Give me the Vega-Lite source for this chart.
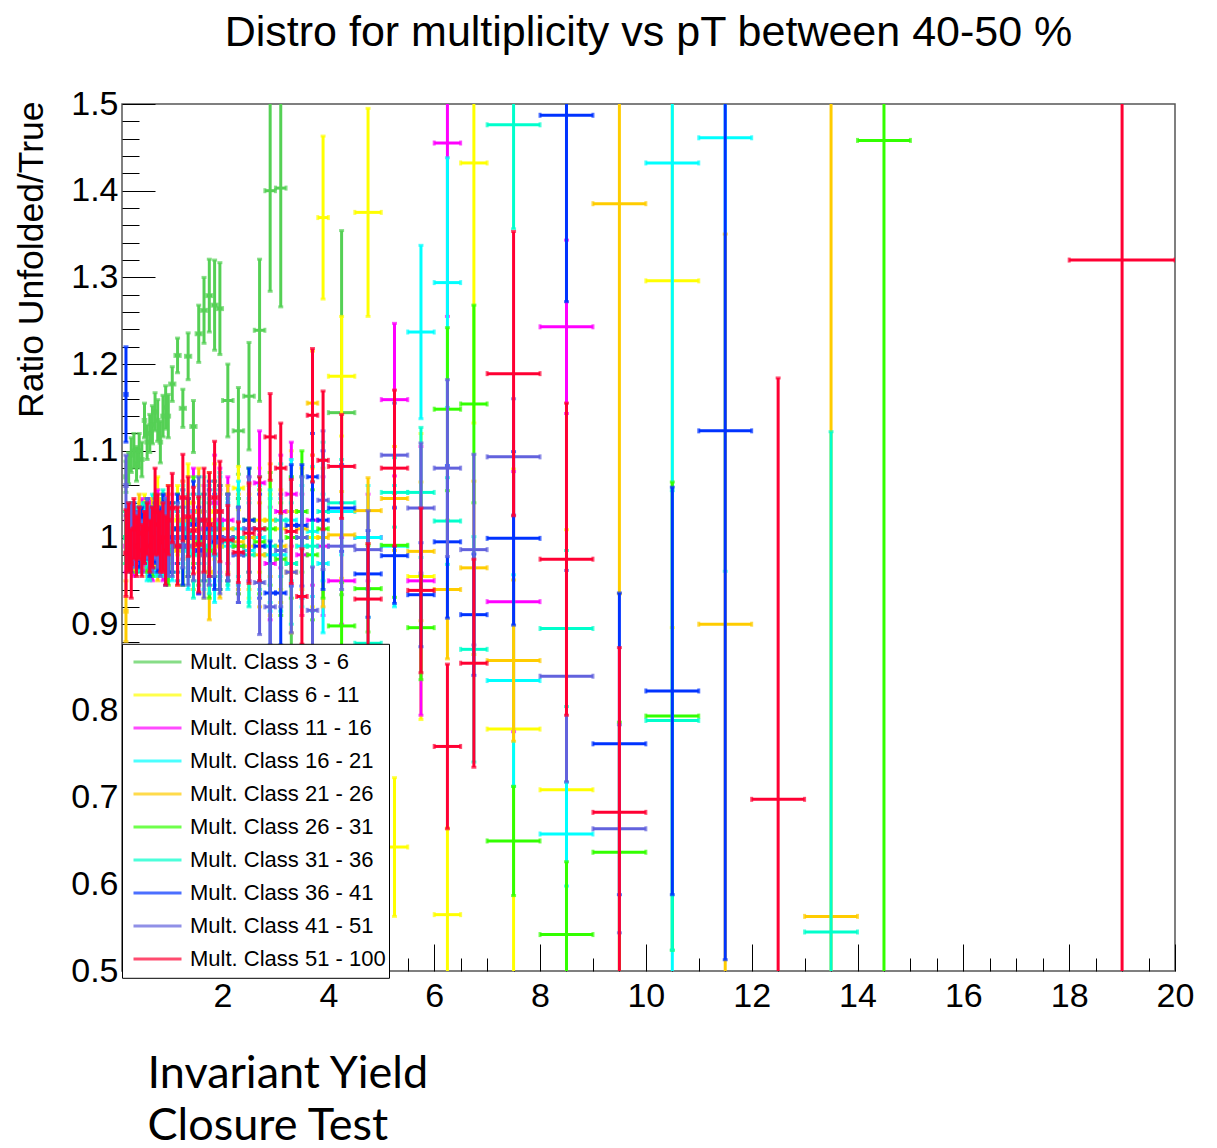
{
"$schema": "https://vega.github.io/schema/vega-lite/v6.json",
"width": 1053, "height": 867,
"autosize": {"type": "none"},
"padding": {"left": 122, "top": 104, "right": 42, "bottom": 177},
"background": "white",
"title": {"text": "Distro for multiplicity vs pT between 40-50 %", "font": "Liberation Sans", "fontSize": 43, "fontWeight": "normal", "color": "black", "anchor": "middle", "offset": 32},
"datasets": {"d": [
{"c":"3 - 6","x":0.175,"w":0.025,"y":1.07,"e":0.018},
{"c":"3 - 6","x":0.225,"w":0.025,"y":1.08,"e":0.018},
{"c":"3 - 6","x":0.275,"w":0.025,"y":1.095,"e":0.02},
{"c":"3 - 6","x":0.325,"w":0.025,"y":1.1,"e":0.02},
{"c":"3 - 6","x":0.375,"w":0.025,"y":1.085,"e":0.02},
{"c":"3 - 6","x":0.425,"w":0.025,"y":1.1,"e":0.02},
{"c":"3 - 6","x":0.475,"w":0.025,"y":1.09,"e":0.02},
{"c":"3 - 6","x":0.525,"w":0.025,"y":1.135,"e":0.02},
{"c":"3 - 6","x":0.575,"w":0.025,"y":1.11,"e":0.02},
{"c":"3 - 6","x":0.625,"w":0.025,"y":1.12,"e":0.022},
{"c":"3 - 6","x":0.675,"w":0.025,"y":1.13,"e":0.022},
{"c":"3 - 6","x":0.725,"w":0.025,"y":1.145,"e":0.022},
{"c":"3 - 6","x":0.775,"w":0.025,"y":1.135,"e":0.024},
{"c":"3 - 6","x":0.825,"w":0.025,"y":1.11,"e":0.024},
{"c":"3 - 6","x":0.875,"w":0.025,"y":1.14,"e":0.024},
{"c":"3 - 6","x":0.925,"w":0.025,"y":1.15,"e":0.025},
{"c":"3 - 6","x":0.975,"w":0.025,"y":1.14,"e":0.025},
{"c":"3 - 6","x":1.05,"w":0.05,"y":1.177,"e":0.02},
{"c":"3 - 6","x":1.15,"w":0.05,"y":1.21,"e":0.02},
{"c":"3 - 6","x":1.25,"w":0.05,"y":1.149,"e":0.022},
{"c":"3 - 6","x":1.35,"w":0.05,"y":1.209,"e":0.027},
{"c":"3 - 6","x":1.45,"w":0.05,"y":1.128,"e":0.03},
{"c":"3 - 6","x":1.55,"w":0.05,"y":1.235,"e":0.033},
{"c":"3 - 6","x":1.65,"w":0.05,"y":1.262,"e":0.038},
{"c":"3 - 6","x":1.75,"w":0.05,"y":1.279,"e":0.042},
{"c":"3 - 6","x":1.85,"w":0.05,"y":1.268,"e":0.052},
{"c":"3 - 6","x":1.95,"w":0.05,"y":1.264,"e":0.053},
{"c":"3 - 6","x":2.1,"w":0.1,"y":1.158,"e":0.042},
{"c":"3 - 6","x":2.3,"w":0.1,"y":1.123,"e":0.05},
{"c":"3 - 6","x":2.5,"w":0.1,"y":1.163,"e":0.062},
{"c":"3 - 6","x":2.7,"w":0.1,"y":1.239,"e":0.082},
{"c":"3 - 6","x":2.9,"w":0.1,"y":1.4,"e":0.116},
{"c":"3 - 6","x":3.1,"w":0.1,"y":1.403,"e":0.137},
{"c":"3 - 6","x":3.3,"w":0.1,"y":0.97,"e":0.1},
{"c":"3 - 6","x":4.25,"w":0.25,"y":1.144,"e":0.21},

{"c":"6 - 11","x":0.175,"w":0.025,"y":1.0,"e":0.03},
{"c":"6 - 11","x":0.225,"w":0.025,"y":0.99,"e":0.03},
{"c":"6 - 11","x":0.275,"w":0.025,"y":1.01,"e":0.03},
{"c":"6 - 11","x":0.325,"w":0.025,"y":1.0,"e":0.03},
{"c":"6 - 11","x":0.375,"w":0.025,"y":0.995,"e":0.03},
{"c":"6 - 11","x":0.425,"w":0.025,"y":1.01,"e":0.03},
{"c":"6 - 11","x":0.475,"w":0.025,"y":1.0,"e":0.03},
{"c":"6 - 11","x":0.525,"w":0.025,"y":1.02,"e":0.03},
{"c":"6 - 11","x":0.575,"w":0.025,"y":0.99,"e":0.035},
{"c":"6 - 11","x":0.625,"w":0.025,"y":1.005,"e":0.035},
{"c":"6 - 11","x":0.675,"w":0.025,"y":1.01,"e":0.035},
{"c":"6 - 11","x":0.725,"w":0.025,"y":1.0,"e":0.035},
{"c":"6 - 11","x":0.775,"w":0.025,"y":1.035,"e":0.035},
{"c":"6 - 11","x":0.825,"w":0.025,"y":0.995,"e":0.035},
{"c":"6 - 11","x":0.875,"w":0.025,"y":1.01,"e":0.04},
{"c":"6 - 11","x":0.925,"w":0.025,"y":1.0,"e":0.04},
{"c":"6 - 11","x":0.975,"w":0.025,"y":1.02,"e":0.04},
{"c":"6 - 11","x":1.05,"w":0.05,"y":1.0,"e":0.04},
{"c":"6 - 11","x":1.15,"w":0.05,"y":1.02,"e":0.04},
{"c":"6 - 11","x":1.25,"w":0.05,"y":0.99,"e":0.045},
{"c":"6 - 11","x":1.35,"w":0.05,"y":1.04,"e":0.045},
{"c":"6 - 11","x":1.45,"w":0.05,"y":1.0,"e":0.05},
{"c":"6 - 11","x":1.55,"w":0.05,"y":1.01,"e":0.05},
{"c":"6 - 11","x":1.65,"w":0.05,"y":0.98,"e":0.05},
{"c":"6 - 11","x":1.75,"w":0.05,"y":1.02,"e":0.055},
{"c":"6 - 11","x":1.85,"w":0.05,"y":1.03,"e":0.055},
{"c":"6 - 11","x":1.95,"w":0.05,"y":1.0,"e":0.06},
{"c":"6 - 11","x":2.1,"w":0.1,"y":1.0,"e":0.05},
{"c":"6 - 11","x":2.3,"w":0.1,"y":1.057,"e":0.025},
{"c":"6 - 11","x":2.5,"w":0.1,"y":0.99,"e":0.06},
{"c":"6 - 11","x":2.7,"w":0.1,"y":1.02,"e":0.06},
{"c":"6 - 11","x":2.9,"w":0.1,"y":0.98,"e":0.07},
{"c":"6 - 11","x":3.1,"w":0.1,"y":1.01,"e":0.07},
{"c":"6 - 11","x":3.3,"w":0.1,"y":1.03,"e":0.07},
{"c":"6 - 11","x":3.5,"w":0.1,"y":0.99,"e":0.08},
{"c":"6 - 11","x":3.7,"w":0.1,"y":1.0,"e":0.08},
{"c":"6 - 11","x":3.9,"w":0.1,"y":1.369,"e":0.094},
{"c":"6 - 11","x":4.25,"w":0.25,"y":1.186,"e":0.069},
{"c":"6 - 11","x":4.75,"w":0.25,"y":1.375,"e":0.12},
{"c":"6 - 11","x":5.25,"w":0.25,"y":0.643,"e":0.08},
{"c":"6 - 11","x":5.75,"w":0.25,"y":0.955,"e":0.165},
{"c":"6 - 11","x":6.25,"w":0.25,"y":0.565,"e":0.1},
{"c":"6 - 11","x":6.75,"w":0.25,"y":1.432,"e":0.3},
{"c":"6 - 11","x":7.5,"w":0.5,"y":0.779,"e":0.3},
{"c":"6 - 11","x":8.5,"w":0.5,"y":0.709,"e":0.3},
{"c":"6 - 11","x":10.5,"w":0.5,"y":1.296,"e":0.4},

{"c":"11 - 16","x":0.175,"w":0.025,"y":0.99,"e":0.03},
{"c":"11 - 16","x":0.225,"w":0.025,"y":1.01,"e":0.03},
{"c":"11 - 16","x":0.275,"w":0.025,"y":1.0,"e":0.03},
{"c":"11 - 16","x":0.325,"w":0.025,"y":0.985,"e":0.03},
{"c":"11 - 16","x":0.375,"w":0.025,"y":1.005,"e":0.03},
{"c":"11 - 16","x":0.425,"w":0.025,"y":1.0,"e":0.03},
{"c":"11 - 16","x":0.475,"w":0.025,"y":1.015,"e":0.03},
{"c":"11 - 16","x":0.525,"w":0.025,"y":0.99,"e":0.03},
{"c":"11 - 16","x":0.575,"w":0.025,"y":1.0,"e":0.035},
{"c":"11 - 16","x":0.625,"w":0.025,"y":1.01,"e":0.035},
{"c":"11 - 16","x":0.675,"w":0.025,"y":0.985,"e":0.035},
{"c":"11 - 16","x":0.725,"w":0.025,"y":1.0,"e":0.035},
{"c":"11 - 16","x":0.775,"w":0.025,"y":1.02,"e":0.035},
{"c":"11 - 16","x":0.825,"w":0.025,"y":1.005,"e":0.035},
{"c":"11 - 16","x":0.875,"w":0.025,"y":0.99,"e":0.04},
{"c":"11 - 16","x":0.925,"w":0.025,"y":1.01,"e":0.04},
{"c":"11 - 16","x":0.975,"w":0.025,"y":1.0,"e":0.04},
{"c":"11 - 16","x":1.05,"w":0.05,"y":1.01,"e":0.04},
{"c":"11 - 16","x":1.15,"w":0.05,"y":0.99,"e":0.04},
{"c":"11 - 16","x":1.25,"w":0.05,"y":1.02,"e":0.045},
{"c":"11 - 16","x":1.35,"w":0.05,"y":1.0,"e":0.045},
{"c":"11 - 16","x":1.45,"w":0.05,"y":1.03,"e":0.05},
{"c":"11 - 16","x":1.55,"w":0.05,"y":0.985,"e":0.05},
{"c":"11 - 16","x":1.65,"w":0.05,"y":1.01,"e":0.05},
{"c":"11 - 16","x":1.75,"w":0.05,"y":1.0,"e":0.055},
{"c":"11 - 16","x":1.85,"w":0.05,"y":1.04,"e":0.055},
{"c":"11 - 16","x":1.95,"w":0.05,"y":1.02,"e":0.06},
{"c":"11 - 16","x":2.1,"w":0.1,"y":1.02,"e":0.05},
{"c":"11 - 16","x":2.3,"w":0.1,"y":0.99,"e":0.055},
{"c":"11 - 16","x":2.5,"w":0.1,"y":1.01,"e":0.06},
{"c":"11 - 16","x":2.7,"w":0.1,"y":1.063,"e":0.06},
{"c":"11 - 16","x":2.9,"w":0.1,"y":0.97,"e":0.065},
{"c":"11 - 16","x":3.1,"w":0.1,"y":1.03,"e":0.065},
{"c":"11 - 16","x":3.3,"w":0.1,"y":1.05,"e":0.06},
{"c":"11 - 16","x":3.5,"w":0.1,"y":0.98,"e":0.07},
{"c":"11 - 16","x":3.7,"w":0.1,"y":1.02,"e":0.075},
{"c":"11 - 16","x":3.9,"w":0.1,"y":0.99,"e":0.08},
{"c":"11 - 16","x":4.25,"w":0.25,"y":0.95,"e":0.05},
{"c":"11 - 16","x":4.75,"w":0.25,"y":1.0,"e":0.05},
{"c":"11 - 16","x":5.25,"w":0.25,"y":1.159,"e":0.088},
{"c":"11 - 16","x":5.75,"w":0.25,"y":0.95,"e":0.155},
{"c":"11 - 16","x":6.25,"w":0.25,"y":1.455,"e":0.2},
{"c":"11 - 16","x":7.5,"w":0.5,"y":0.926,"e":0.15},
{"c":"11 - 16","x":8.5,"w":0.5,"y":1.243,"e":0.1},

{"c":"16 - 21","x":0.175,"w":0.025,"y":1.0,"e":0.03},
{"c":"16 - 21","x":0.225,"w":0.025,"y":1.005,"e":0.03},
{"c":"16 - 21","x":0.275,"w":0.025,"y":0.99,"e":0.03},
{"c":"16 - 21","x":0.325,"w":0.025,"y":1.01,"e":0.03},
{"c":"16 - 21","x":0.375,"w":0.025,"y":1.0,"e":0.03},
{"c":"16 - 21","x":0.425,"w":0.025,"y":0.995,"e":0.03},
{"c":"16 - 21","x":0.475,"w":0.025,"y":1.01,"e":0.03},
{"c":"16 - 21","x":0.525,"w":0.025,"y":1.0,"e":0.03},
{"c":"16 - 21","x":0.575,"w":0.025,"y":0.985,"e":0.035},
{"c":"16 - 21","x":0.625,"w":0.025,"y":1.0,"e":0.035},
{"c":"16 - 21","x":0.675,"w":0.025,"y":1.015,"e":0.035},
{"c":"16 - 21","x":0.725,"w":0.025,"y":0.99,"e":0.035},
{"c":"16 - 21","x":0.775,"w":0.025,"y":1.0,"e":0.035},
{"c":"16 - 21","x":0.825,"w":0.025,"y":1.01,"e":0.035},
{"c":"16 - 21","x":0.875,"w":0.025,"y":0.995,"e":0.04},
{"c":"16 - 21","x":0.925,"w":0.025,"y":1.005,"e":0.04},
{"c":"16 - 21","x":0.975,"w":0.025,"y":0.99,"e":0.04},
{"c":"16 - 21","x":1.05,"w":0.05,"y":0.99,"e":0.04},
{"c":"16 - 21","x":1.15,"w":0.05,"y":1.0,"e":0.04},
{"c":"16 - 21","x":1.25,"w":0.05,"y":1.015,"e":0.045},
{"c":"16 - 21","x":1.35,"w":0.05,"y":0.985,"e":0.045},
{"c":"16 - 21","x":1.45,"w":0.05,"y":1.0,"e":0.05},
{"c":"16 - 21","x":1.55,"w":0.05,"y":1.02,"e":0.05},
{"c":"16 - 21","x":1.65,"w":0.05,"y":0.99,"e":0.05},
{"c":"16 - 21","x":1.75,"w":0.05,"y":1.005,"e":0.055},
{"c":"16 - 21","x":1.85,"w":0.05,"y":0.98,"e":0.055},
{"c":"16 - 21","x":1.95,"w":0.05,"y":1.01,"e":0.06},
{"c":"16 - 21","x":2.1,"w":0.1,"y":0.99,"e":0.05},
{"c":"16 - 21","x":2.3,"w":0.1,"y":1.01,"e":0.055},
{"c":"16 - 21","x":2.5,"w":0.1,"y":0.985,"e":0.06},
{"c":"16 - 21","x":2.7,"w":0.1,"y":1.0,"e":0.06},
{"c":"16 - 21","x":2.9,"w":0.1,"y":0.98,"e":0.065},
{"c":"16 - 21","x":3.1,"w":0.1,"y":0.98,"e":0.065},
{"c":"16 - 21","x":3.3,"w":0.1,"y":1.02,"e":0.07},
{"c":"16 - 21","x":3.5,"w":0.1,"y":0.99,"e":0.07},
{"c":"16 - 21","x":3.7,"w":0.1,"y":1.007,"e":0.075},
{"c":"16 - 21","x":3.9,"w":0.1,"y":0.97,"e":0.08},
{"c":"16 - 21","x":4.25,"w":0.25,"y":1.03,"e":0.05},
{"c":"16 - 21","x":4.75,"w":0.25,"y":1.0,"e":0.06},
{"c":"16 - 21","x":5.25,"w":0.25,"y":0.99,"e":0.07},
{"c":"16 - 21","x":5.75,"w":0.25,"y":1.237,"e":0.1},
{"c":"16 - 21","x":6.25,"w":0.25,"y":1.294,"e":0.144},
{"c":"16 - 21","x":7.5,"w":0.5,"y":0.835,"e":0.122},
{"c":"16 - 21","x":8.5,"w":0.5,"y":0.658,"e":0.06},
{"c":"16 - 21","x":10.5,"w":0.5,"y":1.432,"e":0.95},
{"c":"16 - 21","x":11.5,"w":0.5,"y":1.461,"e":0.5},

{"c":"21 - 26","x":0.175,"w":0.025,"y":0.915,"e":0.035},
{"c":"21 - 26","x":0.225,"w":0.025,"y":1.0,"e":0.03},
{"c":"21 - 26","x":0.275,"w":0.025,"y":1.01,"e":0.03},
{"c":"21 - 26","x":0.325,"w":0.025,"y":0.99,"e":0.03},
{"c":"21 - 26","x":0.375,"w":0.025,"y":1.0,"e":0.03},
{"c":"21 - 26","x":0.425,"w":0.025,"y":1.02,"e":0.03},
{"c":"21 - 26","x":0.475,"w":0.025,"y":0.995,"e":0.03},
{"c":"21 - 26","x":0.525,"w":0.025,"y":1.005,"e":0.03},
{"c":"21 - 26","x":0.575,"w":0.025,"y":1.0,"e":0.035},
{"c":"21 - 26","x":0.625,"w":0.025,"y":0.99,"e":0.035},
{"c":"21 - 26","x":0.675,"w":0.025,"y":1.01,"e":0.035},
{"c":"21 - 26","x":0.725,"w":0.025,"y":1.0,"e":0.035},
{"c":"21 - 26","x":0.775,"w":0.025,"y":0.985,"e":0.035},
{"c":"21 - 26","x":0.825,"w":0.025,"y":1.01,"e":0.035},
{"c":"21 - 26","x":0.875,"w":0.025,"y":1.0,"e":0.04},
{"c":"21 - 26","x":0.925,"w":0.025,"y":0.995,"e":0.04},
{"c":"21 - 26","x":0.975,"w":0.025,"y":1.01,"e":0.04},
{"c":"21 - 26","x":1.05,"w":0.05,"y":1.0,"e":0.04},
{"c":"21 - 26","x":1.15,"w":0.05,"y":0.985,"e":0.04},
{"c":"21 - 26","x":1.25,"w":0.05,"y":1.02,"e":0.045},
{"c":"21 - 26","x":1.35,"w":0.05,"y":1.0,"e":0.045},
{"c":"21 - 26","x":1.45,"w":0.05,"y":0.99,"e":0.05},
{"c":"21 - 26","x":1.55,"w":0.05,"y":1.03,"e":0.05},
{"c":"21 - 26","x":1.65,"w":0.05,"y":1.0,"e":0.05},
{"c":"21 - 26","x":1.75,"w":0.05,"y":0.96,"e":0.055},
{"c":"21 - 26","x":1.85,"w":0.05,"y":1.01,"e":0.055},
{"c":"21 - 26","x":1.95,"w":0.05,"y":0.99,"e":0.06},
{"c":"21 - 26","x":2.1,"w":0.1,"y":1.01,"e":0.05},
{"c":"21 - 26","x":2.3,"w":0.1,"y":0.995,"e":0.055},
{"c":"21 - 26","x":2.5,"w":0.1,"y":1.0,"e":0.06},
{"c":"21 - 26","x":2.7,"w":0.1,"y":0.98,"e":0.06},
{"c":"21 - 26","x":2.9,"w":0.1,"y":1.02,"e":0.065},
{"c":"21 - 26","x":3.1,"w":0.1,"y":0.99,"e":0.065},
{"c":"21 - 26","x":3.3,"w":0.1,"y":0.96,"e":0.07},
{"c":"21 - 26","x":3.5,"w":0.1,"y":1.01,"e":0.07},
{"c":"21 - 26","x":3.7,"w":0.1,"y":1.155,"e":0.06},
{"c":"21 - 26","x":3.9,"w":0.1,"y":1.0,"e":0.08},
{"c":"21 - 26","x":4.25,"w":0.25,"y":1.003,"e":0.05},
{"c":"21 - 26","x":4.75,"w":0.25,"y":1.031,"e":0.038},
{"c":"21 - 26","x":5.25,"w":0.25,"y":1.045,"e":0.06},
{"c":"21 - 26","x":5.75,"w":0.25,"y":0.984,"e":0.08},
{"c":"21 - 26","x":6.25,"w":0.25,"y":0.94,"e":0.08},
{"c":"21 - 26","x":6.75,"w":0.25,"y":0.965,"e":0.1},
{"c":"21 - 26","x":7.5,"w":0.5,"y":0.858,"e":0.093},
{"c":"21 - 26","x":9.5,"w":0.5,"y":1.385,"e":0.45},
{"c":"21 - 26","x":11.5,"w":0.5,"y":0.9,"e":0.45},
{"c":"21 - 26","x":13.5,"w":0.5,"y":0.563,"e":0.96},

{"c":"26 - 31","x":0.175,"w":0.025,"y":1.0,"e":0.03},
{"c":"26 - 31","x":0.225,"w":0.025,"y":0.995,"e":0.03},
{"c":"26 - 31","x":0.275,"w":0.025,"y":1.01,"e":0.03},
{"c":"26 - 31","x":0.325,"w":0.025,"y":1.0,"e":0.03},
{"c":"26 - 31","x":0.375,"w":0.025,"y":0.99,"e":0.03},
{"c":"26 - 31","x":0.425,"w":0.025,"y":1.005,"e":0.03},
{"c":"26 - 31","x":0.475,"w":0.025,"y":1.0,"e":0.03},
{"c":"26 - 31","x":0.525,"w":0.025,"y":1.01,"e":0.03},
{"c":"26 - 31","x":0.575,"w":0.025,"y":0.995,"e":0.035},
{"c":"26 - 31","x":0.625,"w":0.025,"y":1.0,"e":0.035},
{"c":"26 - 31","x":0.675,"w":0.025,"y":0.99,"e":0.035},
{"c":"26 - 31","x":0.725,"w":0.025,"y":1.015,"e":0.035},
{"c":"26 - 31","x":0.775,"w":0.025,"y":1.0,"e":0.035},
{"c":"26 - 31","x":0.825,"w":0.025,"y":0.995,"e":0.035},
{"c":"26 - 31","x":0.875,"w":0.025,"y":1.01,"e":0.04},
{"c":"26 - 31","x":0.925,"w":0.025,"y":1.0,"e":0.04},
{"c":"26 - 31","x":0.975,"w":0.025,"y":0.985,"e":0.04},
{"c":"26 - 31","x":1.05,"w":0.05,"y":1.0,"e":0.04},
{"c":"26 - 31","x":1.15,"w":0.05,"y":1.01,"e":0.04},
{"c":"26 - 31","x":1.25,"w":0.05,"y":0.99,"e":0.045},
{"c":"26 - 31","x":1.35,"w":0.05,"y":1.0,"e":0.045},
{"c":"26 - 31","x":1.45,"w":0.05,"y":1.02,"e":0.05},
{"c":"26 - 31","x":1.55,"w":0.05,"y":0.995,"e":0.05},
{"c":"26 - 31","x":1.65,"w":0.05,"y":1.0,"e":0.05},
{"c":"26 - 31","x":1.75,"w":0.05,"y":0.985,"e":0.055},
{"c":"26 - 31","x":1.85,"w":0.05,"y":1.01,"e":0.055},
{"c":"26 - 31","x":1.95,"w":0.05,"y":1.0,"e":0.06},
{"c":"26 - 31","x":2.1,"w":0.1,"y":1.0,"e":0.05},
{"c":"26 - 31","x":2.3,"w":0.1,"y":0.99,"e":0.055},
{"c":"26 - 31","x":2.5,"w":0.1,"y":1.02,"e":0.06},
{"c":"26 - 31","x":2.7,"w":0.1,"y":0.995,"e":0.06},
{"c":"26 - 31","x":2.9,"w":0.1,"y":1.01,"e":0.065},
{"c":"26 - 31","x":3.1,"w":0.1,"y":0.975,"e":0.065},
{"c":"26 - 31","x":3.3,"w":0.1,"y":1.0,"e":0.07},
{"c":"26 - 31","x":3.5,"w":0.1,"y":1.03,"e":0.07},
{"c":"26 - 31","x":3.7,"w":0.1,"y":0.98,"e":0.075},
{"c":"26 - 31","x":3.9,"w":0.1,"y":1.01,"e":0.08},
{"c":"26 - 31","x":4.25,"w":0.25,"y":0.898,"e":0.05},
{"c":"26 - 31","x":4.75,"w":0.25,"y":0.941,"e":0.05},
{"c":"26 - 31","x":5.25,"w":0.25,"y":0.991,"e":0.06},
{"c":"26 - 31","x":5.75,"w":0.25,"y":0.896,"e":0.06},
{"c":"26 - 31","x":6.25,"w":0.25,"y":1.148,"e":0.094},
{"c":"26 - 31","x":6.75,"w":0.25,"y":1.154,"e":0.114},
{"c":"26 - 31","x":7.5,"w":0.5,"y":0.65,"e":0.063},
{"c":"26 - 31","x":8.5,"w":0.5,"y":0.542,"e":0.084},
{"c":"26 - 31","x":9.5,"w":0.5,"y":0.637,"e":0.15},
{"c":"26 - 31","x":10.5,"w":0.5,"y":0.794,"e":0.27},
{"c":"26 - 31","x":14.5,"w":0.5,"y":1.458,"e":1.0},

{"c":"31 - 36","x":0.175,"w":0.025,"y":1.0,"e":0.03},
{"c":"31 - 36","x":0.225,"w":0.025,"y":1.01,"e":0.03},
{"c":"31 - 36","x":0.275,"w":0.025,"y":0.995,"e":0.03},
{"c":"31 - 36","x":0.325,"w":0.025,"y":1.0,"e":0.03},
{"c":"31 - 36","x":0.375,"w":0.025,"y":1.005,"e":0.03},
{"c":"31 - 36","x":0.425,"w":0.025,"y":0.99,"e":0.03},
{"c":"31 - 36","x":0.475,"w":0.025,"y":1.0,"e":0.03},
{"c":"31 - 36","x":0.525,"w":0.025,"y":1.01,"e":0.03},
{"c":"31 - 36","x":0.575,"w":0.025,"y":1.0,"e":0.035},
{"c":"31 - 36","x":0.625,"w":0.025,"y":0.985,"e":0.035},
{"c":"31 - 36","x":0.675,"w":0.025,"y":1.0,"e":0.035},
{"c":"31 - 36","x":0.725,"w":0.025,"y":1.01,"e":0.035},
{"c":"31 - 36","x":0.775,"w":0.025,"y":0.99,"e":0.035},
{"c":"31 - 36","x":0.825,"w":0.025,"y":1.0,"e":0.035},
{"c":"31 - 36","x":0.875,"w":0.025,"y":1.015,"e":0.04},
{"c":"31 - 36","x":0.925,"w":0.025,"y":0.995,"e":0.04},
{"c":"31 - 36","x":0.975,"w":0.025,"y":1.0,"e":0.04},
{"c":"31 - 36","x":1.05,"w":0.05,"y":1.0,"e":0.04},
{"c":"31 - 36","x":1.15,"w":0.05,"y":0.99,"e":0.04},
{"c":"31 - 36","x":1.25,"w":0.05,"y":1.01,"e":0.045},
{"c":"31 - 36","x":1.35,"w":0.05,"y":1.005,"e":0.045},
{"c":"31 - 36","x":1.45,"w":0.05,"y":0.98,"e":0.05},
{"c":"31 - 36","x":1.55,"w":0.05,"y":1.0,"e":0.05},
{"c":"31 - 36","x":1.65,"w":0.05,"y":1.02,"e":0.05},
{"c":"31 - 36","x":1.75,"w":0.05,"y":0.99,"e":0.055},
{"c":"31 - 36","x":1.85,"w":0.05,"y":1.0,"e":0.055},
{"c":"31 - 36","x":1.95,"w":0.05,"y":1.015,"e":0.06},
{"c":"31 - 36","x":2.1,"w":0.1,"y":0.995,"e":0.05},
{"c":"31 - 36","x":2.3,"w":0.1,"y":1.0,"e":0.055},
{"c":"31 - 36","x":2.5,"w":0.1,"y":0.98,"e":0.06},
{"c":"31 - 36","x":2.7,"w":0.1,"y":1.01,"e":0.06},
{"c":"31 - 36","x":2.9,"w":0.1,"y":0.99,"e":0.065},
{"c":"31 - 36","x":3.1,"w":0.1,"y":1.02,"e":0.065},
{"c":"31 - 36","x":3.3,"w":0.1,"y":0.97,"e":0.07},
{"c":"31 - 36","x":3.5,"w":0.1,"y":1.0,"e":0.07},
{"c":"31 - 36","x":3.7,"w":0.1,"y":0.99,"e":0.075},
{"c":"31 - 36","x":3.9,"w":0.1,"y":1.03,"e":0.08},
{"c":"31 - 36","x":4.25,"w":0.25,"y":1.04,"e":0.05},
{"c":"31 - 36","x":4.75,"w":0.25,"y":0.878,"e":0.03},
{"c":"31 - 36","x":5.25,"w":0.25,"y":1.052,"e":0.04},
{"c":"31 - 36","x":5.75,"w":0.25,"y":1.052,"e":0.075},
{"c":"31 - 36","x":6.25,"w":0.25,"y":1.019,"e":0.05},
{"c":"31 - 36","x":6.75,"w":0.25,"y":0.871,"e":0.13},
{"c":"31 - 36","x":7.5,"w":0.5,"y":1.476,"e":0.12},
{"c":"31 - 36","x":8.5,"w":0.5,"y":0.895,"e":0.09},
{"c":"31 - 36","x":10.5,"w":0.5,"y":0.789,"e":0.265},
{"c":"31 - 36","x":13.5,"w":0.5,"y":0.545,"e":0.577},

{"c":"36 - 41","x":0.175,"w":0.025,"y":1.165,"e":0.055},
{"c":"36 - 41","x":0.225,"w":0.025,"y":1.0,"e":0.03},
{"c":"36 - 41","x":0.275,"w":0.025,"y":0.99,"e":0.03},
{"c":"36 - 41","x":0.325,"w":0.025,"y":1.01,"e":0.03},
{"c":"36 - 41","x":0.375,"w":0.025,"y":1.0,"e":0.03},
{"c":"36 - 41","x":0.425,"w":0.025,"y":0.995,"e":0.03},
{"c":"36 - 41","x":0.475,"w":0.025,"y":1.005,"e":0.03},
{"c":"36 - 41","x":0.525,"w":0.025,"y":1.0,"e":0.03},
{"c":"36 - 41","x":0.575,"w":0.025,"y":1.01,"e":0.035},
{"c":"36 - 41","x":0.625,"w":0.025,"y":0.99,"e":0.035},
{"c":"36 - 41","x":0.675,"w":0.025,"y":1.0,"e":0.035},
{"c":"36 - 41","x":0.725,"w":0.025,"y":1.005,"e":0.035},
{"c":"36 - 41","x":0.775,"w":0.025,"y":0.995,"e":0.035},
{"c":"36 - 41","x":0.825,"w":0.025,"y":1.0,"e":0.035},
{"c":"36 - 41","x":0.875,"w":0.025,"y":1.01,"e":0.04},
{"c":"36 - 41","x":0.925,"w":0.025,"y":0.985,"e":0.04},
{"c":"36 - 41","x":0.975,"w":0.025,"y":1.0,"e":0.04},
{"c":"36 - 41","x":1.05,"w":0.05,"y":1.0,"e":0.04},
{"c":"36 - 41","x":1.15,"w":0.05,"y":1.01,"e":0.04},
{"c":"36 - 41","x":1.25,"w":0.05,"y":0.99,"e":0.045},
{"c":"36 - 41","x":1.35,"w":0.05,"y":1.0,"e":0.045},
{"c":"36 - 41","x":1.45,"w":0.05,"y":1.015,"e":0.05},
{"c":"36 - 41","x":1.55,"w":0.05,"y":0.985,"e":0.05},
{"c":"36 - 41","x":1.65,"w":0.05,"y":1.0,"e":0.05},
{"c":"36 - 41","x":1.75,"w":0.05,"y":1.01,"e":0.055},
{"c":"36 - 41","x":1.85,"w":0.05,"y":0.995,"e":0.055},
{"c":"36 - 41","x":1.95,"w":0.05,"y":1.0,"e":0.06},
{"c":"36 - 41","x":2.1,"w":0.1,"y":1.0,"e":0.05},
{"c":"36 - 41","x":2.3,"w":0.1,"y":0.98,"e":0.055},
{"c":"36 - 41","x":2.5,"w":0.1,"y":1.02,"e":0.06},
{"c":"36 - 41","x":2.7,"w":0.1,"y":0.99,"e":0.06},
{"c":"36 - 41","x":2.9,"w":0.1,"y":0.936,"e":0.06},
{"c":"36 - 41","x":3.1,"w":0.1,"y":0.936,"e":0.06},
{"c":"36 - 41","x":3.3,"w":0.1,"y":1.014,"e":0.07},
{"c":"36 - 41","x":3.5,"w":0.1,"y":1.014,"e":0.07},
{"c":"36 - 41","x":3.7,"w":0.1,"y":1.07,"e":0.05},
{"c":"36 - 41","x":3.9,"w":0.1,"y":1.02,"e":0.08},
{"c":"36 - 41","x":4.25,"w":0.25,"y":1.034,"e":0.05},
{"c":"36 - 41","x":4.75,"w":0.25,"y":0.958,"e":0.05},
{"c":"36 - 41","x":5.25,"w":0.25,"y":0.979,"e":0.055},
{"c":"36 - 41","x":5.75,"w":0.25,"y":0.934,"e":0.06},
{"c":"36 - 41","x":6.25,"w":0.25,"y":0.995,"e":0.088},
{"c":"36 - 41","x":6.75,"w":0.25,"y":0.911,"e":0.07},
{"c":"36 - 41","x":7.5,"w":0.5,"y":0.999,"e":0.1},
{"c":"36 - 41","x":8.5,"w":0.5,"y":1.487,"e":0.215},
{"c":"36 - 41","x":9.5,"w":0.5,"y":0.762,"e":0.174},
{"c":"36 - 41","x":10.5,"w":0.5,"y":0.823,"e":0.235},
{"c":"36 - 41","x":11.5,"w":0.5,"y":1.123,"e":0.61},

{"c":"41 - 51","x":0.175,"w":0.025,"y":1.06,"e":0.035},
{"c":"41 - 51","x":0.225,"w":0.025,"y":1.0,"e":0.03},
{"c":"41 - 51","x":0.275,"w":0.025,"y":1.01,"e":0.03},
{"c":"41 - 51","x":0.325,"w":0.025,"y":0.995,"e":0.03},
{"c":"41 - 51","x":0.375,"w":0.025,"y":1.0,"e":0.03},
{"c":"41 - 51","x":0.425,"w":0.025,"y":1.005,"e":0.03},
{"c":"41 - 51","x":0.475,"w":0.025,"y":0.99,"e":0.03},
{"c":"41 - 51","x":0.525,"w":0.025,"y":1.0,"e":0.03},
{"c":"41 - 51","x":0.575,"w":0.025,"y":1.01,"e":0.035},
{"c":"41 - 51","x":0.625,"w":0.025,"y":1.0,"e":0.035},
{"c":"41 - 51","x":0.675,"w":0.025,"y":0.995,"e":0.035},
{"c":"41 - 51","x":0.725,"w":0.025,"y":1.01,"e":0.035},
{"c":"41 - 51","x":0.775,"w":0.025,"y":1.0,"e":0.035},
{"c":"41 - 51","x":0.825,"w":0.025,"y":0.99,"e":0.035},
{"c":"41 - 51","x":0.875,"w":0.025,"y":1.0,"e":0.04},
{"c":"41 - 51","x":0.925,"w":0.025,"y":1.005,"e":0.04},
{"c":"41 - 51","x":0.975,"w":0.025,"y":0.995,"e":0.04},
{"c":"41 - 51","x":1.05,"w":0.05,"y":0.995,"e":0.04},
{"c":"41 - 51","x":1.15,"w":0.05,"y":1.0,"e":0.04},
{"c":"41 - 51","x":1.25,"w":0.05,"y":1.01,"e":0.045},
{"c":"41 - 51","x":1.35,"w":0.05,"y":0.99,"e":0.045},
{"c":"41 - 51","x":1.45,"w":0.05,"y":1.0,"e":0.05},
{"c":"41 - 51","x":1.55,"w":0.05,"y":1.02,"e":0.05},
{"c":"41 - 51","x":1.65,"w":0.05,"y":0.98,"e":0.05},
{"c":"41 - 51","x":1.75,"w":0.05,"y":1.0,"e":0.055},
{"c":"41 - 51","x":1.85,"w":0.05,"y":1.01,"e":0.055},
{"c":"41 - 51","x":1.95,"w":0.05,"y":0.995,"e":0.06},
{"c":"41 - 51","x":2.1,"w":0.1,"y":1.0,"e":0.05},
{"c":"41 - 51","x":2.3,"w":0.1,"y":0.98,"e":0.055},
{"c":"41 - 51","x":2.5,"w":0.1,"y":1.01,"e":0.06},
{"c":"41 - 51","x":2.7,"w":0.1,"y":0.948,"e":0.06},
{"c":"41 - 51","x":2.9,"w":0.1,"y":0.92,"e":0.05},
{"c":"41 - 51","x":3.1,"w":0.1,"y":0.985,"e":0.065},
{"c":"41 - 51","x":3.3,"w":0.1,"y":0.96,"e":0.07},
{"c":"41 - 51","x":3.5,"w":0.1,"y":1.0,"e":0.07},
{"c":"41 - 51","x":3.7,"w":0.1,"y":0.916,"e":0.05},
{"c":"41 - 51","x":3.9,"w":0.1,"y":1.043,"e":0.08},
{"c":"41 - 51","x":4.25,"w":0.25,"y":0.99,"e":0.05},
{"c":"41 - 51","x":4.75,"w":0.25,"y":0.986,"e":0.045},
{"c":"41 - 51","x":5.25,"w":0.25,"y":1.095,"e":0.06},
{"c":"41 - 51","x":5.75,"w":0.25,"y":1.034,"e":0.075},
{"c":"41 - 51","x":6.25,"w":0.25,"y":1.08,"e":0.102},
{"c":"41 - 51","x":6.75,"w":0.25,"y":0.986,"e":0.11},
{"c":"41 - 51","x":7.5,"w":0.5,"y":1.093,"e":0.067},
{"c":"41 - 51","x":8.5,"w":0.5,"y":0.84,"e":0.122},
{"c":"41 - 51","x":9.5,"w":0.5,"y":0.664,"e":0.12},

{"c":"51 - 100","x":0.175,"w":0.025,"y":0.982,"e":0.05},
{"c":"51 - 100","x":0.225,"w":0.025,"y":1.0,"e":0.04},
{"c":"51 - 100","x":0.275,"w":0.025,"y":0.97,"e":0.04},
{"c":"51 - 100","x":0.325,"w":0.025,"y":1.01,"e":0.035},
{"c":"51 - 100","x":0.375,"w":0.025,"y":0.99,"e":0.035},
{"c":"51 - 100","x":0.425,"w":0.025,"y":1.005,"e":0.03},
{"c":"51 - 100","x":0.475,"w":0.025,"y":0.985,"e":0.03},
{"c":"51 - 100","x":0.525,"w":0.025,"y":1.0,"e":0.03},
{"c":"51 - 100","x":0.575,"w":0.025,"y":1.01,"e":0.03},
{"c":"51 - 100","x":0.625,"w":0.025,"y":0.99,"e":0.03},
{"c":"51 - 100","x":0.675,"w":0.025,"y":1.0,"e":0.035},
{"c":"51 - 100","x":0.725,"w":0.025,"y":1.03,"e":0.05},
{"c":"51 - 100","x":0.775,"w":0.025,"y":1.015,"e":0.035},
{"c":"51 - 100","x":0.825,"w":0.025,"y":0.995,"e":0.035},
{"c":"51 - 100","x":0.875,"w":0.025,"y":1.0,"e":0.04},
{"c":"51 - 100","x":0.925,"w":0.025,"y":0.985,"e":0.04},
{"c":"51 - 100","x":0.975,"w":0.025,"y":1.02,"e":0.04},
{"c":"51 - 100","x":1.05,"w":0.05,"y":1.034,"e":0.04},
{"c":"51 - 100","x":1.15,"w":0.05,"y":0.99,"e":0.045},
{"c":"51 - 100","x":1.25,"w":0.05,"y":1.046,"e":0.05},
{"c":"51 - 100","x":1.35,"w":0.05,"y":1.024,"e":0.046},
{"c":"51 - 100","x":1.45,"w":0.05,"y":1.008,"e":0.05},
{"c":"51 - 100","x":1.55,"w":0.05,"y":0.992,"e":0.055},
{"c":"51 - 100","x":1.65,"w":0.05,"y":1.02,"e":0.06},
{"c":"51 - 100","x":1.75,"w":0.05,"y":1.015,"e":0.06},
{"c":"51 - 100","x":1.85,"w":0.05,"y":1.046,"e":0.065},
{"c":"51 - 100","x":1.95,"w":0.05,"y":1.03,"e":0.058},
{"c":"51 - 100","x":2.1,"w":0.1,"y":0.997,"e":0.04},
{"c":"51 - 100","x":2.3,"w":0.1,"y":0.983,"e":0.035},
{"c":"51 - 100","x":2.5,"w":0.1,"y":1.005,"e":0.058},
{"c":"51 - 100","x":2.7,"w":0.1,"y":1.01,"e":0.06},
{"c":"51 - 100","x":2.9,"w":0.1,"y":1.116,"e":0.05},
{"c":"51 - 100","x":3.1,"w":0.1,"y":1.08,"e":0.052},
{"c":"51 - 100","x":3.3,"w":0.1,"y":1.007,"e":0.06},
{"c":"51 - 100","x":3.5,"w":0.1,"y":0.932,"e":0.055},
{"c":"51 - 100","x":3.7,"w":0.1,"y":1.141,"e":0.077},
{"c":"51 - 100","x":3.9,"w":0.1,"y":1.089,"e":0.08},
{"c":"51 - 100","x":4.25,"w":0.25,"y":1.082,"e":0.06},
{"c":"51 - 100","x":4.75,"w":0.25,"y":0.929,"e":0.064},
{"c":"51 - 100","x":5.25,"w":0.25,"y":1.08,"e":0.09},
{"c":"51 - 100","x":5.75,"w":0.25,"y":0.939,"e":0.095},
{"c":"51 - 100","x":6.25,"w":0.25,"y":0.759,"e":0.095},
{"c":"51 - 100","x":6.75,"w":0.25,"y":0.855,"e":0.12},
{"c":"51 - 100","x":7.5,"w":0.5,"y":1.189,"e":0.164},
{"c":"51 - 100","x":8.5,"w":0.5,"y":0.975,"e":0.18},
{"c":"51 - 100","x":9.5,"w":0.5,"y":0.683,"e":0.19},
{"c":"51 - 100","x":12.5,"w":0.5,"y":0.698,"e":0.486},
{"c":"51 - 100","x":19,"w":1,"y":1.32,"e":0.9}
]},
"data": {"name": "d"},
"layer": [
 {
  "mark": {"type": "point", "opacity": 0},
  "encoding": {
   "x": {"field": "x", "type": "quantitative",
         "scale": {"domain": [0.1, 20], "nice": false, "zero": false},
         "axis": {"orient": "bottom", "values": [2,4,6,8,10,12,14,16,18,20], "tickSize": -27, "tickColor": "black", "tickWidth": 1,
                  "domain": false, "grid": false, "labelFont": "Liberation Sans", "labelFontSize": 34, "labelColor": "black", "labelPadding": 35, "labelFlush": false, "labelOverlap": false,
                  "title": ["Invariant Yield", "Closure Test"], "titleFont": "Lato", "titleFontSize": 45, "titleFontWeight": "normal", "titleColor": "black",
                  "titleAlign": "left", "titleAnchor": "start", "titleBaseline": "alphabetic", "titleX": 25, "titleY": 116, "titleLineHeight": 52}},
   "y": {"field": "y", "type": "quantitative",
         "scale": {"domain": [0.5, 1.5], "nice": false, "zero": false},
         "axis": {"orient": "left", "values": [0.5,0.6,0.7,0.8,0.9,1,1.1,1.2,1.3,1.4,1.5], "tickSize": -33, "tickColor": "black", "tickWidth": 1,
                  "domain": false, "grid": false, "labelFont": "Liberation Sans", "labelFontSize": 34, "labelColor": "black", "labelPadding": 37, "labelFlush": false, "labelOverlap": false,
                  "labelExpr": "datum.value == 1 ? '1' : format(datum.value, '.1f')",
                  "title": "Ratio Unfolded/True", "titleFont": "Liberation Sans", "titleFontSize": 35.5, "titleFontWeight": "normal", "titleColor": "black",
                  "titleAngle": -90, "titleAlign": "right", "titleBaseline": "middle", "titleX": -91, "titleY": -3}}
  }
 },
 {
  "mark": {"type": "point", "opacity": 0},
  "encoding": {
   "x": {"field": "x", "type": "quantitative",
         "axis": {"orient": "bottom", "values": [0.5,1,1.5,2.5,3,3.5,4.5,5,5.5,6.5,7,7.5,8.5,9,9.5,10.5,11,11.5,12.5,13,13.5,14.5,15,15.5,16.5,17,17.5,18.5,19,19.5],
                  "tickSize": -13, "tickColor": "black", "tickWidth": 1, "labels": false, "domain": false, "grid": false, "title": null}},
   "y": {"field": "y", "type": "quantitative",
         "axis": {"orient": "left", "values": [0.52,0.54,0.56,0.58,0.62,0.64,0.66,0.68,0.72,0.74,0.76,0.78,0.82,0.84,0.86,0.88,0.92,0.94,0.96,0.98,1.02,1.04,1.06,1.08,1.12,1.14,1.16,1.18,1.22,1.24,1.26,1.28,1.32,1.34,1.36,1.38,1.42,1.44,1.46,1.48],
                  "tickSize": -17, "tickColor": "black", "tickWidth": 1, "labels": false, "domain": false, "grid": false, "title": null}}
  }
 },
 {
  "encoding": {
   "x": {"field": "x", "type": "quantitative", "axis": null},
   "y": {"field": "y", "type": "quantitative", "axis": null},
   "color": {"field": "c", "type": "nominal",
             "scale": {"domain": ["3 - 6","6 - 11","11 - 16","16 - 21","21 - 26","26 - 31","31 - 36","36 - 41","41 - 51","51 - 100"],
                       "range": ["#55d055","#ffff00","#ff00ff","#00ffff","#ffcc00","#33ff00","#00ffcc","#0033ff","#6262dd","#ff0033"]},
             "legend": {"title": null, "labelExpr": "'Mult. Class ' + datum.label"}}
  },
  "layer": [
   {"transform": [{"filter": "datum.c == '3 - 6'"}], "mark": {"type": "errorbar", "thickness": 3, "size": 5, "ticks": true, "clip": true}, "encoding": {"yError": {"field": "e"}}},
   {"transform": [{"filter": "datum.c == '3 - 6'"}], "mark": {"type": "errorbar", "thickness": 3, "size": 5, "ticks": true, "clip": true}, "encoding": {"xError": {"field": "w"}}},
   {"transform": [{"filter": "datum.c == '6 - 11'"}], "mark": {"type": "errorbar", "thickness": 3, "size": 5, "ticks": true, "clip": true}, "encoding": {"yError": {"field": "e"}}},
   {"transform": [{"filter": "datum.c == '6 - 11'"}], "mark": {"type": "errorbar", "thickness": 3, "size": 5, "ticks": true, "clip": true}, "encoding": {"xError": {"field": "w"}}},
   {"transform": [{"filter": "datum.c == '11 - 16'"}], "mark": {"type": "errorbar", "thickness": 3, "size": 5, "ticks": true, "clip": true}, "encoding": {"yError": {"field": "e"}}},
   {"transform": [{"filter": "datum.c == '11 - 16'"}], "mark": {"type": "errorbar", "thickness": 3, "size": 5, "ticks": true, "clip": true}, "encoding": {"xError": {"field": "w"}}},
   {"transform": [{"filter": "datum.c == '16 - 21'"}], "mark": {"type": "errorbar", "thickness": 3, "size": 5, "ticks": true, "clip": true}, "encoding": {"yError": {"field": "e"}}},
   {"transform": [{"filter": "datum.c == '16 - 21'"}], "mark": {"type": "errorbar", "thickness": 3, "size": 5, "ticks": true, "clip": true}, "encoding": {"xError": {"field": "w"}}},
   {"transform": [{"filter": "datum.c == '21 - 26'"}], "mark": {"type": "errorbar", "thickness": 3, "size": 5, "ticks": true, "clip": true}, "encoding": {"yError": {"field": "e"}}},
   {"transform": [{"filter": "datum.c == '21 - 26'"}], "mark": {"type": "errorbar", "thickness": 3, "size": 5, "ticks": true, "clip": true}, "encoding": {"xError": {"field": "w"}}},
   {"transform": [{"filter": "datum.c == '26 - 31'"}], "mark": {"type": "errorbar", "thickness": 3, "size": 5, "ticks": true, "clip": true}, "encoding": {"yError": {"field": "e"}}},
   {"transform": [{"filter": "datum.c == '26 - 31'"}], "mark": {"type": "errorbar", "thickness": 3, "size": 5, "ticks": true, "clip": true}, "encoding": {"xError": {"field": "w"}}},
   {"transform": [{"filter": "datum.c == '31 - 36'"}], "mark": {"type": "errorbar", "thickness": 3, "size": 5, "ticks": true, "clip": true}, "encoding": {"yError": {"field": "e"}}},
   {"transform": [{"filter": "datum.c == '31 - 36'"}], "mark": {"type": "errorbar", "thickness": 3, "size": 5, "ticks": true, "clip": true}, "encoding": {"xError": {"field": "w"}}},
   {"transform": [{"filter": "datum.c == '36 - 41'"}], "mark": {"type": "errorbar", "thickness": 3, "size": 5, "ticks": true, "clip": true}, "encoding": {"yError": {"field": "e"}}},
   {"transform": [{"filter": "datum.c == '36 - 41'"}], "mark": {"type": "errorbar", "thickness": 3, "size": 5, "ticks": true, "clip": true}, "encoding": {"xError": {"field": "w"}}},
   {"transform": [{"filter": "datum.c == '41 - 51'"}], "mark": {"type": "errorbar", "thickness": 3, "size": 5, "ticks": true, "clip": true}, "encoding": {"yError": {"field": "e"}}},
   {"transform": [{"filter": "datum.c == '41 - 51'"}], "mark": {"type": "errorbar", "thickness": 3, "size": 5, "ticks": true, "clip": true}, "encoding": {"xError": {"field": "w"}}},
   {"transform": [{"filter": "datum.c == '51 - 100'"}], "mark": {"type": "errorbar", "thickness": 3, "size": 5, "ticks": true, "clip": true}, "encoding": {"yError": {"field": "e"}}},
   {"transform": [{"filter": "datum.c == '51 - 100'"}], "mark": {"type": "errorbar", "thickness": 3, "size": 5, "ticks": true, "clip": true}, "encoding": {"xError": {"field": "w"}}}
  ]
 }
],
"resolve": {"axis": {"x": "independent", "y": "independent"}},
"config": {
 "view": {"stroke": "#555555", "strokeWidth": 1.5},
 "legend": {"orient": "none", "legendX": 0, "legendY": 539.8, "strokeColor": "black", "fillColor": "white", "padding": 3,
            "symbolType": "stroke", "symbolSize": 2304, "symbolStrokeWidth": 3, "symbolOffset": 7, "labelFont": "Liberation Sans", "labelFontSize": 22,
            "labelColor": "black", "labelOffset": 7, "labelLimit": 0, "clipHeight": 30.2, "rowPadding": 2}
}
}
